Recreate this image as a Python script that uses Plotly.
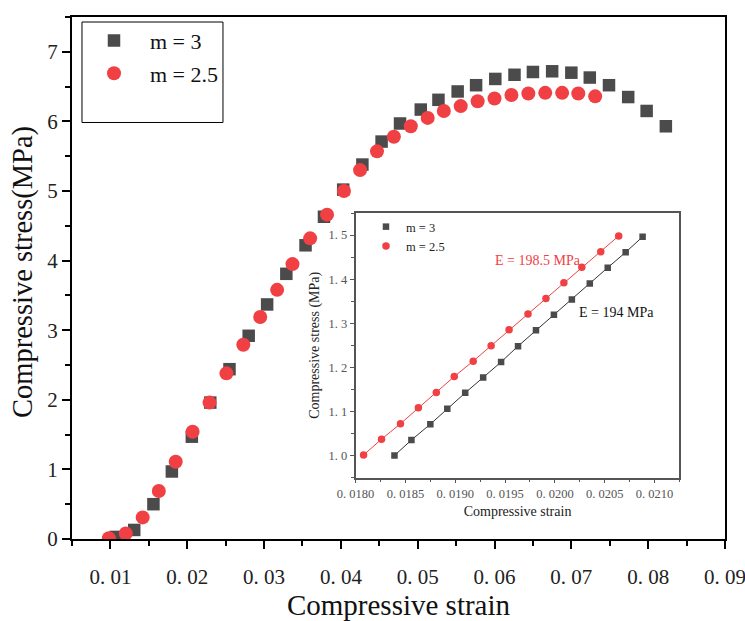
import plotly.graph_objects as go

# ---- main curves: compressive stress-strain ----
strain_m3 = [0.0107, 0.0131, 0.0156, 0.0180, 0.0206, 0.0230, 0.0255, 0.0280, 0.0304, 0.0329,
             0.0354, 0.0378, 0.0403, 0.0428, 0.0453, 0.0477, 0.0504, 0.0527, 0.0552, 0.0576,
             0.0601, 0.0626, 0.0650, 0.0675, 0.0700, 0.0724, 0.0749, 0.0774, 0.0798, 0.0823]
stress_m3 = [0.03, 0.13, 0.50, 0.97, 1.47, 1.96, 2.44, 2.92, 3.37, 3.81,
             4.22, 4.63, 5.02, 5.38, 5.71, 5.97, 6.17, 6.31, 6.43, 6.52,
             6.61, 6.67, 6.71, 6.72, 6.70, 6.63, 6.52, 6.35, 6.15, 5.93]

strain_m25 = [0.0098, 0.0120, 0.0142, 0.0163, 0.0185, 0.0207, 0.0229, 0.0251, 0.0273, 0.0295,
              0.0317, 0.0337, 0.0360, 0.0382, 0.0404, 0.0425, 0.0447, 0.0469, 0.0491, 0.0513,
              0.0534, 0.0556, 0.0578, 0.0600, 0.0622, 0.0644, 0.0666, 0.0688, 0.0709, 0.0731]
stress_m25 = [0.01, 0.08, 0.31, 0.69, 1.11, 1.54, 1.96, 2.38, 2.79, 3.19,
              3.58, 3.95, 4.32, 4.66, 5.00, 5.30, 5.57, 5.78, 5.93, 6.05,
              6.15, 6.22, 6.29, 6.33, 6.38, 6.40, 6.41, 6.41, 6.40, 6.36]

# ---- inset: linear-elastic segment ----
in_strain_m3 = [0.01839, 0.01856, 0.01875, 0.01892, 0.01910, 0.01928, 0.01946, 0.01963,
                0.01981, 0.01999, 0.02017, 0.02035, 0.02053, 0.02071, 0.02088]
in_stress_m3 = [1.000, 1.035, 1.071, 1.106, 1.142, 1.177, 1.212, 1.248,
                1.284, 1.319, 1.354, 1.390, 1.426, 1.461, 1.496]
in_strain_m25 = [0.01808, 0.01826, 0.01845, 0.01863, 0.01881, 0.01899, 0.01918, 0.01936,
                 0.01954, 0.01973, 0.01991, 0.02009, 0.02027, 0.02046, 0.02064]
in_stress_m25 = [1.001, 1.037, 1.072, 1.108, 1.143, 1.179, 1.214, 1.249,
                 1.285, 1.321, 1.356, 1.392, 1.427, 1.462, 1.498]

series_names = ["m = 3", "m = 2.5"]
modulus_labels = ["E = 194 MPa", "E = 198.5 MPa"]

main_x_ticks = [0.01, 0.02, 0.03, 0.04, 0.05, 0.06, 0.07, 0.08, 0.09]
main_x_text = ["0. 01", "0. 02", "0. 03", "0. 04", "0. 05", "0. 06", "0. 07", "0. 08", "0. 09"]
main_y_ticks = [0, 1, 2, 3, 4, 5, 6, 7]
in_x_ticks = [0.0180, 0.0185, 0.0190, 0.0195, 0.0200, 0.0205, 0.0210]
in_x_text = ["0. 0180", "0. 0185", "0. 0190", "0. 0195", "0. 0200", "0. 0205", "0. 0210"]
in_y_ticks = [1.0, 1.1, 1.2, 1.3, 1.4, 1.5]
in_y_text = ["1. 0", "1. 1", "1. 2", "1. 3", "1. 4", "1. 5"]

GRAY = "#4b4b4b"
RED = "#f04044"
SERIF = "Liberation Serif"

fig = go.Figure()

# main scatter
fig.add_trace(go.Scatter(x=strain_m3, y=stress_m3, mode="markers", name=series_names[0],
                         legendgroup="a", legend="legend",
                         marker=dict(symbol="square", size=12.5, color=GRAY)))
fig.add_trace(go.Scatter(x=strain_m25, y=stress_m25, mode="markers", name=series_names[1],
                         legendgroup="b", legend="legend",
                         marker=dict(symbol="circle", size=14, color=RED)))

# inset lines
fig.add_trace(go.Scatter(x=in_strain_m3, y=in_stress_m3, mode="lines", xaxis="x2", yaxis="y2",
                         line=dict(color="#333333", width=1), showlegend=False, hoverinfo="skip"))
fig.add_trace(go.Scatter(x=in_strain_m25, y=in_stress_m25, mode="lines", xaxis="x2", yaxis="y2",
                         line=dict(color=RED, width=1), showlegend=False, hoverinfo="skip"))
# inset markers
fig.add_trace(go.Scatter(x=in_strain_m3, y=in_stress_m3, mode="markers", xaxis="x2", yaxis="y2",
                         name=series_names[0], legend="legend2", legendgroup="c",
                         marker=dict(symbol="square", size=6.5, color=GRAY)))
fig.add_trace(go.Scatter(x=in_strain_m25, y=in_stress_m25, mode="markers", xaxis="x2", yaxis="y2",
                         name=series_names[1], legend="legend2", legendgroup="d",
                         marker=dict(symbol="circle", size=7.5, color=RED)))

main_axis = dict(showline=True, linecolor="black", linewidth=2, mirror=True,
                 ticks="outside", ticklen=8, tickwidth=1.5, tickcolor="black",
                 showgrid=False, zeroline=False, automargin=False, ticklabeloverflow="allow",
                 tickfont=dict(family=SERIF, size=21, color="#222222"))
inset_axis = dict(showline=True, linecolor="#555555", linewidth=1.5, mirror=True,
                  ticks="outside", ticklen=4, tickwidth=1, tickcolor="#555555",
                  showgrid=False, zeroline=False, automargin=False, ticklabeloverflow="allow",
                  tickfont=dict(family=SERIF, size=12.5, color="#555555"))

fig.update_layout(
    width=745, height=621,
    margin=dict(l=72, r=20, t=17, b=82),
    paper_bgcolor="white", plot_bgcolor="white",
    xaxis=dict(main_axis, range=[0.005, 0.09], tickvals=main_x_ticks, ticktext=main_x_text,
               minor=dict(ticks="outside", ticklen=5, tickwidth=1.5, tickcolor="black",
                          tick0=0.005, dtick=0.005),
               ticklabelstandoff=10,
               title=dict(text="Compressive strain", standoff=5,
                          font=dict(family=SERIF, size=29, color="#111111"))),
    yaxis=dict(main_axis, range=[0, 7.5], tickvals=main_y_ticks,
               minor=dict(ticks="outside", ticklen=5, tickwidth=1.5, tickcolor="black",
                          tick0=0, dtick=0.5)),
    xaxis2=dict(inset_axis, domain=[0.4343, 0.9303], anchor="y2",
                range=[0.018, 0.02125], tickvals=in_x_ticks, ticktext=in_x_text,
                minor=dict(ticks="outside", ticklen=3, tickwidth=1, tickcolor="#555555",
                           tick0=0.018, dtick=0.00025),
                title=dict(text="Compressive strain", standoff=6,
                           font=dict(family=SERIF, size=14, color="#222222"))),
    yaxis2=dict(inset_axis, domain=[0.1178, 0.6245], anchor="x2",
                range=[0.95, 1.55], tickvals=in_y_ticks, ticktext=in_y_text,
                minor=dict(ticks="outside", ticklen=3, tickwidth=1, tickcolor="#555555",
                           tick0=0.95, dtick=0.05),
                title=dict(text="Compressive stress (MPa)", standoff=6,
                           font=dict(family=SERIF, size=14, color="#222222"))),
    legend=dict(x=0.0092, y=0.9946, xanchor="left", yanchor="top", itemwidth=62,
                bgcolor="rgba(0,0,0,0)", borderwidth=0, tracegroupgap=1,
                font=dict(family=SERIF, size=22, color="#111111")),
    legend2=dict(x=0.4502, y=0.6264, xanchor="left", yanchor="top", itemwidth=30,
                 bgcolor="rgba(0,0,0,0)", borderwidth=0, tracegroupgap=0,
                 font=dict(family=SERIF, size=12.5, color="#222222")),
    shapes=[
        dict(type="rect", xref="paper", yref="paper", x0=0.0153, x1=0.2312, y0=0.7979, y1=0.9904,
             line=dict(color="black", width=1)),
        dict(type="rect", xref="paper", yref="paper", x0=0.4516, x1=0.5703, y0=0.5086, y1=0.6165,
             line=dict(color="black", width=1.5), fillcolor="white", layer="below"),
    ],
    annotations=[
        dict(x=-0.075, y=0.5115, xref="paper", yref="paper", text="Compressive stress(MPa)",
             showarrow=False, textangle=-90, xanchor="center", yanchor="middle",
             font=dict(family=SERIF, size=28.5, color="#111111")),
        dict(x=0.019382, y=1.442, xref="x2", yref="y2", text=modulus_labels[1], showarrow=False,
             xanchor="left", yanchor="middle", font=dict(family=SERIF, size=14, color=RED)),
        dict(x=0.020218, y=1.324, xref="x2", yref="y2", text=modulus_labels[0], showarrow=False,
             xanchor="left", yanchor="middle", font=dict(family=SERIF, size=14, color="#111111")),
    ],
)

fig.write_html("out.html")
